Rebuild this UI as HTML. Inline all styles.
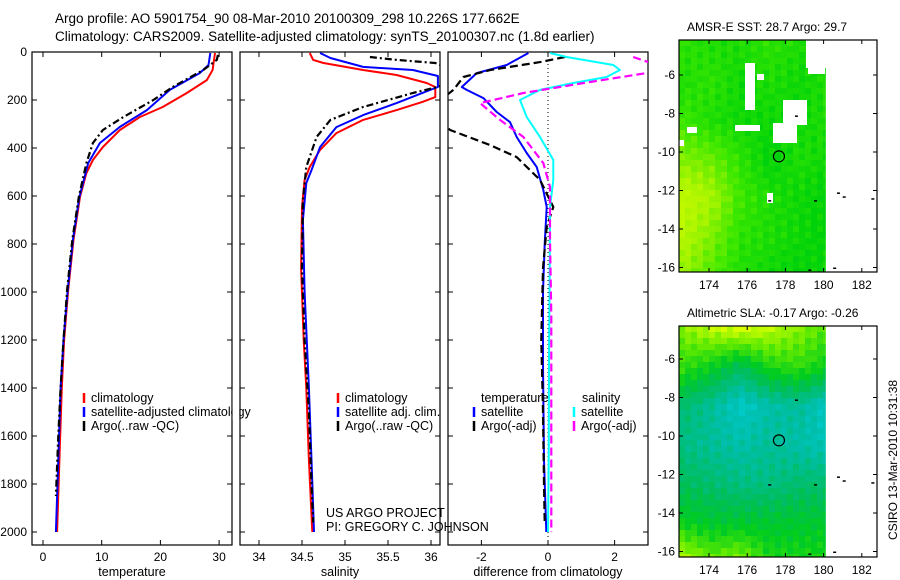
<!DOCTYPE html>
<html><head><meta charset="utf-8"><style>
body{margin:0;background:#fff;}
svg{display:block;font-family:"Liberation Sans",Arial,sans-serif;}
text{fill:#000;}
</style></head><body>
<svg id="fig" width="900" height="580" viewBox="0 0 900 580">
<text x="55" y="23" font-size="13.5">Argo profile: AO 5901754_90 08-Mar-2010 20100309_298 10.226S 177.662E</text>
<text x="55" y="41" font-size="13.5">Climatology: CARS2009. Satellite-adjusted climatology: synTS_20100307.nc (1.8d earlier)</text>
<text x="687" y="31" font-size="12">AMSR-E SST: 28.7 Argo: 29.7</text>
<text x="687" y="317" font-size="12">Altimetric SLA: -0.17 Argo: -0.26</text>
<text transform="translate(897,460) rotate(-90)" text-anchor="middle" font-size="12">CSIRO 13-Mar-2010 10:31:38</text>
<g id="g"></g>
</svg>
<script>
// ---------- data ----------
const depthTicks=[0,200,400,600,800,1000,1200,1400,1600,1800,2000];
const tempTicks=[0,10,20,30];
const salTicks=[34,34.5,35,35.5,36];
const diffTicks=[-2,0,2];
const lonTicks=[174,176,178,180,182];
const latTicks=[-6,-8,-10,-12,-14,-16];
// temperature profiles [depth, value]
const tempClimDepth=[4,75,117,171,229,271,325,396,450,504,604,783,992,1200,1400,1700,2000];
const tempClimVal=[29.3,28.9,27.9,24.5,20.4,16.5,13.1,10.2,8.5,7.4,6.3,5.2,4.3,3.6,3.2,2.8,2.4];
const tempSatDepth=[4,54,88,158,242,312,379,463,604,783,992,1200,1400,1700,2000];
const tempSatVal=[28.5,28.2,26.7,21.6,17.7,13.1,9.7,7.7,6.2,5.1,4.2,3.5,3.0,2.6,2.2];
const tempArgoDepth=[12,33,75,146,200,271,325,379,463,604,783,992,1200,1400,1600,1850];
const tempArgoVal=[29.8,29.6,27.3,22.1,18.8,13.7,10.2,8.5,7.4,6.1,5.0,4.1,3.5,3.0,2.6,2.2];
// salinity profiles
const salClimDepth=[4,33,46,75,96,129,146,188,208,242,283,338,408,479,533,646,900,1200,1400,1700,2000];
const salClimVal=[34.59,34.63,34.75,35.21,35.6,35.95,36.05,36.05,35.9,35.6,35.21,34.9,34.71,34.59,34.53,34.5,34.49,34.52,34.55,34.58,34.62];
const salSatDepth=[4,25,62,75,100,146,158,213,263,313,396,492,546,700,1000,1400,1700,2000];
const salSatVal=[34.71,34.83,35.21,35.79,36.08,36.08,35.99,35.6,35.21,34.9,34.71,34.61,34.55,34.51,34.53,34.58,34.61,34.64];
const salArgoDepth=[21,33,46,95,146,171,229,283,354,479,617,900,1200,1500,1800,1960];
const salArgoVal=[35.29,35.6,36.05,36.4,36.08,35.79,35.21,34.83,34.67,34.55,34.51,34.5,34.53,34.58,34.61,34.63];
// differences from climatology
const dTempSatDepth=[4,54,88,146,158,192,250,292,354,421,479,575,646,800,1000,1300,1700,2000];
const dTempSatVal=[-0.59,-1.24,-2.14,-2.59,-2.44,-1.94,-1.54,-1.14,-0.94,-0.64,-0.34,-0.14,-0.04,-0.1,-0.15,-0.15,-0.12,-0.05];
const dTempArgoDepth=[21,42,75,104,158,240,325,388,438,533,646,729,900,1200,1500,1800,1960];
const dTempArgoVal=[0.51,-0.24,-1.74,-2.54,-2.84,-3.6,-2.94,-1.74,-0.94,-0.24,0.16,-0.04,-0.15,-0.2,-0.15,-0.12,-0.1];
const dSalSatDepth=[4,21,54,75,104,129,158,200,271,354,450,533,646,900,1300,1700,2000];
const dSalSatVal=[0.06,0.56,1.96,2.16,1.76,0.76,-0.24,-0.84,-0.64,-0.24,0.16,0.16,0.06,0.05,0.03,0.02,0.0];
const dSalArgoDepth=[21,60,88,125,171,213,283,354,463,563,783,1100,1500,2000];
const dSalArgoVal=[2.56,3.4,2.96,1.26,-0.74,-2.04,-1.44,-0.74,-0.14,0.06,0.06,0.1,0.1,0.1];
// map coarse fields (rows lat -4..-16, cols lon 172.4..180.1)
const sstGrid=[[0.45,0.4,0.4,0.45,0.4,0.35],[0.4,0.45,0.35,0.4,0.35,0.4],[0.5,0.4,0.35,0.35,0.35,0.4],[0.65,0.6,0.45,0.3,0.4,0.35],[0.85,0.75,0.5,0.4,0.35,0.3],[0.8,0.65,0.45,0.4,0.35,0.3],[0.7,0.55,0.4,0.35,0.3,0.35]];
const slaGrid=[[0.85,0.95,1,0.95,0.85,0.75],[0.7,0.6,0.45,0.65,0.7,0.6],[0.4,0.3,0.15,0.25,0.3,0.15],[0.35,0.3,0.25,0.3,0.25,0.2],[0.45,0.4,0.35,0.35,0.4,0.4],[0.6,0.55,0.55,0.55,0.55,0.55],[0.95,0.8,0.85,0.65,0.65,0.65]];
const argoLon=177.662, argoLat=-10.226;

// ---------- helpers ----------
const NS="http://www.w3.org/2000/svg";
const G=document.getElementById('g');
function mk(tag,attrs,parent){const e=document.createElementNS(NS,tag);for(const k in attrs)e.setAttribute(k,attrs[k]);(parent||G).appendChild(e);return e;}
const y0=52, ky=0.24;
const yD=d=>y0+d*ky;
const PANEL_T=52, PANEL_B=545;
const xT=v=>43+5.87*v;
const xS=v=>259+86*(v-34);
const xDf=v=>548+33.3*v;

function panel(name,x1,x2,xf,ticks,label,yLabels){
  const grp=mk('g',{});
  
  
  const cp=mk('clipPath',{id:'clip-'+name},grp);
  mk('rect',{x:x1,y:PANEL_T,width:x2-x1,height:PANEL_B-PANEL_T},cp);
  const r=mk('rect',{x:x1,y:PANEL_T,width:x2-x1,height:PANEL_B-PANEL_T,fill:'none',stroke:'#000','stroke-width':1.2},grp);
  
  
  ticks.forEach(t=>{const x=xf(t);
    mk('line',{x1:x,x2:x,y1:PANEL_B,y2:PANEL_B-5,stroke:'#000'},grp);
    mk('line',{x1:x,x2:x,y1:PANEL_T,y2:PANEL_T+5,stroke:'#000'},grp);
    const tx=mk('text',{x:x,y:PANEL_B+16,'text-anchor':'middle','font-size':12},grp);tx.textContent=String(t);
    
    
  });
  depthTicks.forEach(d=>{const y=yD(d);
    mk('line',{x1:x1,x2:x1+5,y1:y,y2:y,stroke:'#000'},grp);
    mk('line',{x1:x2,x2:x2-5,y1:y,y2:y,stroke:'#000'},grp);
    if(yLabels){const tx=mk('text',{x:x1-5,y:y+4,'text-anchor':'end','font-size':12},grp);tx.textContent=String(d);
      
      }
  });
  const lb=mk('text',{x:(x1+x2)/2,y:576,'text-anchor':'middle','font-size':12.5},grp);lb.textContent=label;
  
  
  const plot=mk('g',{'clip-path':'url(#clip-'+name+')'},grp);
  return plot;
}
function line(parent,depths,vals,xf,color,dash,w,name){
  const pts=depths.map((d,i)=>xf(vals[i]).toFixed(1)+','+yD(d).toFixed(1)).join(' ');
  const p=mk('polyline',{points:pts,fill:'none',stroke:color,'stroke-width':w||2,'stroke-dasharray':dash||'none','stroke-linejoin':'round'},parent);
  
  
}
function legend(x,y,items){
  items.forEach((it,i)=>{const yy=y+i*14;
    const m=mk('line',{x1:x,x2:x,y1:yy-9,y2:yy+1,stroke:it[1],'stroke-width':2.5});
    
    
    const t=mk('text',{x:x+7,y:yy,'font-size':12.5});t.textContent=it[0];
    
    
  });
}

// ---------- temperature panel ----------
const pT=panel('temperature-panel',32,232,xT,tempTicks,'temperature',true);
line(pT,tempClimDepth,tempClimVal,xT,'#f00',null,2,'temp-climatology-line');
line(pT,tempSatDepth,tempSatVal,xT,'#00f',null,2,'temp-satellite-line');
line(pT,tempArgoDepth,tempArgoVal,xT,'#000','7,3,2,3',2.2,'temp-argo-line');
legend(84,402,[['climatology','#f00'],['satellite-adjusted climatology','#00f'],['Argo(..raw -QC)','#000']]);
const wm=mk('rect',{x:232.6,y:390,width:6.8,height:30,fill:'#fff'});



// ---------- salinity panel ----------
const pS=panel('salinity-panel',240,440,xS,salTicks,'salinity',false);
line(pS,salClimDepth,salClimVal,xS,'#f00',null,2,'sal-climatology-line');
line(pS,salSatDepth,salSatVal,xS,'#00f',null,2,'sal-satellite-line');
line(pS,salArgoDepth,salArgoVal,xS,'#000','7,3,2,3',2.2,'sal-argo-line');
legend(338,402,[['climatology','#f00'],['satellite adj. clim.','#00f'],['Argo(..raw -QC)','#000']]);
[['US ARGO PROJECT',517],['PI: GREGORY C. JOHNSON',531]].forEach(a=>{const t=mk('text',{x:326,y:a[1],'font-size':12.5});t.textContent=a[0];
  
  });

// ---------- difference panel ----------
const pD=panel('difference-panel',448,648,xDf,diffTicks,'difference from climatology',false);
mk('line',{x1:xDf(0),x2:xDf(0),y1:PANEL_T,y2:PANEL_B,stroke:'#000','stroke-dasharray':'1,3'},pD);
line(pD,dTempSatDepth,dTempSatVal,xDf,'#00f',null,2,'diff-temp-satellite-line');
line(pD,dTempArgoDepth,dTempArgoVal,xDf,'#000','8,4',2.2,'diff-temp-argo-line');
line(pD,dSalSatDepth,dSalSatVal,xDf,'#0ff',null,2,'diff-sal-satellite-line');
line(pD,dSalArgoDepth,dSalArgoVal,xDf,'#f0f','8,4',2.2,'diff-sal-argo-line');
const th=mk('text',{x:481,y:402,'font-size':12.5});th.textContent='temperature';


const sh=mk('text',{x:582,y:402,'font-size':12.5});sh.textContent='salinity';


legend(474,416,[['satellite','#00f'],['Argo(-adj)','#000']]);
legend(574,416,[['satellite','#0ff'],['Argo(-adj)','#f0f']]);

// ---------- maps ----------
const MX1=679, MX2=877, lonX=l=>709+19.1*(l-174);
function lerp(a,b,t){return a+(b-a)*t;}
function sample(grid,fx,fy){
  const R=grid.length-1,C=grid[0].length-1;
  const gx=Math.max(0,Math.min(C,fx*C)),gy=Math.max(0,Math.min(R,fy*R));
  const i=Math.min(R-1,Math.floor(gy)),j=Math.min(C-1,Math.floor(gx));
  const ty=gy-i,tx=gx-j;
  return lerp(lerp(grid[i][j],grid[i][j+1],tx),lerp(grid[i+1][j],grid[i+1][j+1],tx),ty);
}
function palette(stops,v){
  v=Math.max(0,Math.min(1,v));
  for(let k=0;k<stops.length-1;k++){const a=stops[k],b=stops[k+1];
    if(v<=b[0]){const t=(v-a[0])/(b[0]-a[0]);
      return 'rgb('+[1,2,3].map(c=>Math.round(lerp(a[c],b[c],t))).join(',')+')';}}
  const l=stops[stops.length-1];return 'rgb('+l[1]+','+l[2]+','+l[3]+')';
}
const sstPal=[[0,0,185,60],[0.3,0,210,10],[0.5,60,232,0],[0.75,170,245,0],[1,220,255,0]];
const slaPal=[[0,0,215,235],[0.25,0,190,170],[0.45,0,190,90],[0.6,0,205,30],[0.8,100,235,0],[1,215,255,0]];
function map(name,top,bottom,latY,grid,pal,holes){
  const grp=mk('g',{});
  
  
  const dataX2=lonX(180.1);
  const cs=6;
  for(let y=top;y<bottom;y+=cs){for(let x=MX1;x<dataX2;x+=cs){
    const fx=(x-MX1)/(dataX2-MX1),fy=(y-top)/(bottom-top);
    let v=sample(grid,fx,fy);
    v+=0.06*Math.sin(x*0.37+y*0.21)*Math.cos(x*0.13-y*0.29);
    mk('rect',{x:x,y:y,width:Math.min(cs,dataX2-x)+0.3,height:Math.min(cs,bottom-y)+0.3,fill:palette(pal,v)},grp);
  }}
  holes.forEach(h=>mk('rect',{x:h[0],y:h[1],width:h[2],height:h[3],fill:'#fff'},grp));
  const fr=mk('rect',{x:MX1,y:top,width:MX2-MX1,height:bottom-top,fill:'none',stroke:'#000','stroke-width':1.2},grp);
  
  
  lonTicks.forEach(l=>{const x=lonX(l);
    mk('line',{x1:x,x2:x,y1:bottom,y2:bottom-4,stroke:'#000'},grp);
    mk('line',{x1:x,x2:x,y1:top,y2:top+4,stroke:'#000'},grp);
    const t=mk('text',{x:x,y:bottom+17,'text-anchor':'middle','font-size':12},grp);t.textContent=String(l);
    
    });
  latTicks.forEach(la=>{const y=latY(la);
    mk('line',{x1:MX1,x2:MX1+4,y1:y,y2:y,stroke:'#000'},grp);
    mk('line',{x1:MX2,x2:MX2-4,y1:y,y2:y,stroke:'#000'},grp);
    const t=mk('text',{x:MX1-4,y:y+4,'text-anchor':'end','font-size':12},grp);t.textContent=String(la);
    
    });
  [[179.5,-12.5],[180.7,-12.1],[181.0,-12.3],[182.5,-12.4],[179.2,-16.1],[180.5,-16.0],[177.1,-12.5],[178.5,-8.1]].forEach(p=>
    mk('rect',{x:lonX(p[0]),y:latY(p[1]),width:3,height:1.5,fill:'#000'},grp));
  const c=mk('circle',{cx:lonX(argoLon),cy:latY(argoLat),r:5.5,fill:'none',stroke:'#000','stroke-width':1.2},grp);
  
  
}
map('sst-map',40,272,la=>75+(-6-la)*19.25,sstGrid,sstPal,
  [[806,40,20,28],[808,60,17,14],[745,63,10,47],[735,125,25,6],[783,100,24,25],[773,123,24,20],[687,127,10,6],[767,193,6,10],[679,140,5,6],[757,74,7,6]]);
map('sla-map',326,557,la=>359+(-6-la)*19.25,slaGrid,slaPal,[]);
</script>
</body></html>
